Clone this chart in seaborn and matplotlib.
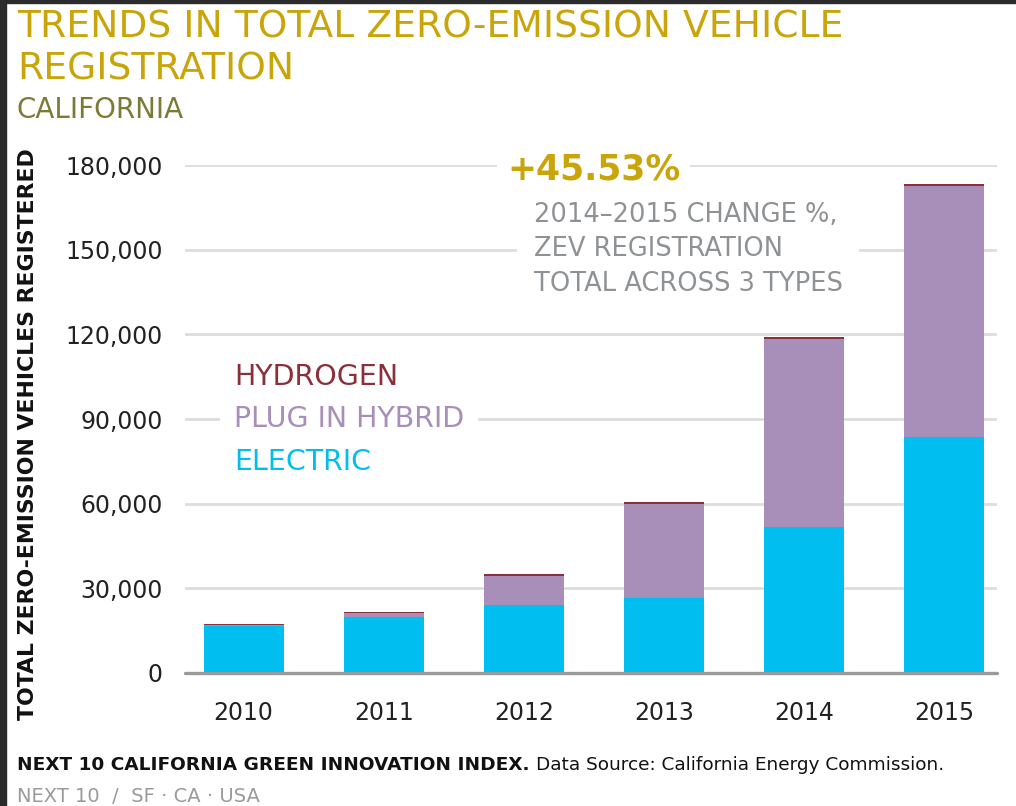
import matplotlib
matplotlib.use("Agg")
import matplotlib.pyplot as plt
import seaborn as sns
import pandas as pd
from matplotlib.patches import Rectangle
from matplotlib.ticker import FuncFormatter, FixedLocator

# datos
years = ["2010", "2011", "2012", "2013", "2014", "2015"]
electric = [16800, 19700, 24100, 26500, 51600, 83700]
plug_in = [100, 1400, 10400, 33500, 66800, 89000]
hydrogen = [500, 500, 500, 500, 600, 600]
y_ticks = [0, 30000, 60000, 90000, 120000, 150000, 180000]

c_elec = "#00BFF0"
c_plug = "#A88FBA"
c_hyd = "#8B2F3A"
gold = "#C9A50A"

sns.set_theme(style="white")
plt.rcParams["font.family"] = ["DejaVu Sans"]

df = pd.DataFrame({"year": years, "electric": electric, "plug": plug_in, "hyd": hydrogen})
df["e_p"] = df["electric"] + df["plug"]
df["total"] = df["e_p"] + df["hyd"]

fig = plt.figure(figsize=(10.16, 8.06), dpi=100)
ax = fig.add_axes([185 / 1016, 133 / 806, 812 / 1016, 508 / 806])

# barras apiladas: total, luego electric+plug, luego electric
sns.barplot(data=df, x="year", y="total", color=c_hyd, width=0.57, saturation=1, linewidth=0, ax=ax, zorder=3)
sns.barplot(data=df, x="year", y="e_p", color=c_plug, width=0.57, saturation=1, linewidth=0, ax=ax, zorder=3)
sns.barplot(data=df, x="year", y="electric", color=c_elec, width=0.57, saturation=1, linewidth=0, ax=ax, zorder=3)

ax.set_xlim(-0.418, 5.377)
ax.set_ylim(0, 180000)
ax.set_yticks(y_ticks)
ax.yaxis.set_major_formatter(FuncFormatter(lambda v, p: f"{int(v):,}"))
ax.set_xlabel("")
ax.set_ylabel("")
for s in ax.spines.values():
    s.set_visible(False)

for t in y_ticks[1:]:
    ax.axhline(t, color="#DDDDDD", lw=2.0, zorder=1)
ax.axhline(0, color="#9A9A9A", lw=2.4, zorder=4, clip_on=False)

ax.tick_params(axis="y", length=0, pad=16, labelsize=17, labelcolor="#222222")
ax.tick_params(axis="x", which="major", length=0, pad=20, labelsize=17, labelcolor="#222222")
ax.xaxis.set_minor_locator(FixedLocator([0.5, 1.5, 2.5, 3.5, 4.5]))
ax.tick_params(axis="x", which="minor", length=12, width=2.2, color="#DDDDDD", direction="out")

# leyenda como texto (la caja blanca corta la linea de la grilla)
box = dict(facecolor="white", edgecolor="none", pad=10)
ax.text(-0.068, 104900, "HYDROGEN", color=c_hyd, fontsize=20.5, va="center", ha="left", zorder=2, bbox=box)
ax.text(-0.068, 90000, "PLUG IN HYBRID", color=c_plug, fontsize=20.5, va="center", ha="left", zorder=2, bbox=box)
ax.text(-0.068, 74800, "ELECTRIC", color=c_elec, fontsize=20.5, va="center", ha="left", zorder=2, bbox=box)

# anotacion
ax.text(1.88, 178300, "+45.53%", color=gold, fontsize=25, fontweight="bold", va="center", ha="left",
        zorder=2, bbox=dict(facecolor="white", edgecolor="none", pad=7))
ax.text(2.07, 150200, "2014\u20132015 CHANGE %,\nZEV REGISTRATION\nTOTAL ACROSS 3 TYPES",
        color="#8F9295", fontsize=18.5, va="center", ha="left", linespacing=1.42, zorder=2,
        bbox=dict(facecolor="white", edgecolor="none", pad=12))

# titulos
fig.text(17 / 1016, 1 - 38 / 806, "TRENDS IN TOTAL ZERO-EMISSION VEHICLE", color=gold, fontsize=27.1, va="baseline")
fig.text(17 / 1016, 1 - 80 / 806, "REGISTRATION", color=gold, fontsize=27.1, va="baseline")
fig.text(17 / 1016, 1 - 118 / 806, "CALIFORNIA", color="#7B7A36", fontsize=20, va="baseline")
fig.text(28 / 1016, 1 - 434 / 806, "TOTAL ZERO-EMISSION VEHICLES REGISTERED", rotation=90, color="#111111",
         fontsize=15.8, fontweight="bold", va="center", ha="center")

# pie
t1 = fig.text(17 / 1016, 1 - 770 / 806, "NEXT 10 CALIFORNIA GREEN INNOVATION INDEX.", color="#111111",
              fontsize=13.3, fontweight="bold", va="baseline")
fig.canvas.draw()
bb = t1.get_window_extent()
fig.text((bb.x1 + 6) / 1016, 1 - 770 / 806, "Data Source: California Energy Commission.", color="#111111",
         fontsize=13.3, va="baseline")
fig.text(17 / 1016, 1 - 802 / 806, "NEXT 10  /  SF \u00b7 CA \u00b7 USA", color="#9A9A9A", fontsize=14,
         va="baseline")

# marco oscuro
fig.patches.append(Rectangle((0, 0), 6 / 1016, 1, transform=fig.transFigure, color="#2B2B2B", zorder=0))
fig.patches.append(Rectangle((0, 1 - 3 / 806), 1, 3 / 806, transform=fig.transFigure, color="#2B2B2B", zorder=0))

fig.savefig("out.png", dpi=100, facecolor="white")
